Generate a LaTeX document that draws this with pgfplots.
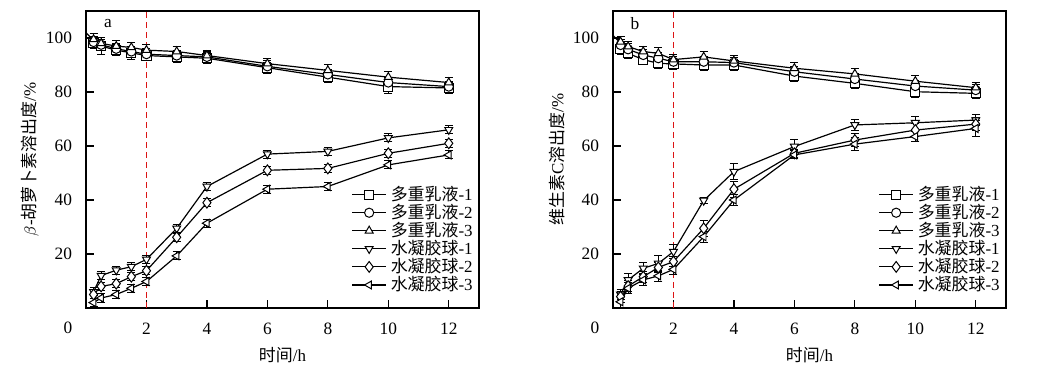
\documentclass[border=0pt]{standalone}
\usepackage{fontspec}
\setmainfont{Liberation Serif}
\newfontfamily\cjk{Noto Sans CJK SC}
\usepackage{pgfplots}
\pgfplotsset{compat=1.18}
\usepackage{pgfplotstable}

\pgfplotstableread{
x    s1   e1  s2   e2  s3   e3  s4   e4  s5   e5  s6   e6
0.25 98   2   98.5 2   99.5 2   6    1.5 5    1.5 2    1.5
0.5  97   3   97.5 2   98   2   12   1.5 8    1.5 3.7  1.5
1    95.5 2   96   2   97   2   14   1.5 9    1.5 5    1.5
1.5  94.5 2.5 95   2   96.5 2   15.3 1.5 11.6 1.5 7.3  1.5
2    93.5 2   94   2   95.5 2   18   1.5 13.8 1.5 9.8  1.5
3    93   2   93.5 2   95   2   29.5 1.5 26.2 1.5 19.3 1.5
4    92.5 2   93   2   93.5 2   45   1.5 39   1.5 31.4 1.5
6    89   2   89.5 2   90.5 2   57   1.5 51   1.5 44   1.5
8    85.5 2   86.5 2   88   2   58   1.5 51.7 1.5 45   1.5
10   82   2.5 83.5 2   85.5 2   63   1.5 57.3 1.5 53   1.5
12   81.5 2   82   2   83.5 2   66   1.5 61   1.5 56.7 1.5
}\dataA

\pgfplotstableread{
x    s1   e1  s2   e2  s3   e3  s4   e4  s5   e5  s6   e6
0.25 96   2   97.4 2   98.6 2   5    2   4.2  2   2.3  2
0.5  94.3 2   95.8 2   96.8 2   10.4 2.5 8.1  2   7.3  2
1    92   2   93.7 2   95   2   14.7 2   11.6 2   10.4 2
1.5  90.6 2   92.5 2   94.3 2   16.5 3   15   2   11.9 2
2    90.4 2   91.2 2   92   2   20.9 2.5 17.2 2   14.3 2
3    90   2   91.2 2   93   2   39.8 1   29.5 3   26.4 2
4    90   2   90.9 2   91.5 2   50.5 3   44   3   40   2
6    85.9 2   87.5 2   88.8 2   59.8 2.5 57.3 1.5 56.7 1.5
8    83.2 2   84.8 2   86.7 2   67.8 2   62.2 2.5 60.7 2.5
10   80.1 2   82.2 2   84   2   68.6 2.5 65.9 2.5 63.5 2
12   79.5 2   80.7 2   81.6 2   69.6 2   68.1 2.5 66.5 3
}\dataB

\definecolor{dashred}{RGB}{220,20,20}

\pgfplotsset{
 myaxis/.style={
  scale only axis, width=196.5bp, height=148.5bp,
  xmin=0, xmax=13, ymin=0, ymax=110,
  xtick={2,4,...,12}, ytick={20,40,...,100},
  tick align=inside, xtick pos=bottom, ytick pos=left,
  major tick length=4bp,
  axis line style={line width=0.7pt},
  tick style={line width=0.6pt, black},
  /pgf/number format/assume math mode=true,
  ticklabel style={font=\fontsize{8.7}{10}\selectfont},
  xticklabel style={yshift=-4bp},
  yticklabel style={xshift=-3.5bp},
  legend style={draw=none, fill=none, at={(1,0)}, anchor=south east,
    xshift=-1bp, yshift=5bp, font=\fontsize{8.5}{9.2}\selectfont,
    row sep=-3.6bp, inner sep=0pt},
  legend cell align=left,
 },
 ser/.style={black, line width=0.6pt, mark size=2.3bp,
    mark options={fill=white, draw=black, solid, line width=0.5pt},
    error bars/y dir=both, error bars/y explicit,
    error bars/error bar style={line width=0.5pt, black},
    error bars/error mark options={rotate=90, mark size=2bp, line width=0.5pt, black}},
}

\begin{document}
\begin{tikzpicture}
\path[use as bounding box] (0,0) rectangle (520bp,185bp);

\begin{axis}[myaxis, name=A, at={(43bp,31bp)}, anchor=south west]
\addplot[forget plot, black, line width=0.6pt] coordinates {(0,102) (0.25,99)};
\draw[dashred, line width=0.6pt, dash pattern=on 3bp off 2bp] (axis cs:2,0) -- (axis cs:2,110);
\addplot[ser, mark=square*] table[x=x, y=s1, y error=e1] {\dataA};
\addlegendentry{{\cjk 多重乳液}-1}
\addplot[ser, mark=*] table[x=x, y=s2, y error=e2] {\dataA};
\addlegendentry{{\cjk 多重乳液}-2}
\addplot[ser, mark=triangle*] table[x=x, y=s3, y error=e3] {\dataA};
\addlegendentry{{\cjk 多重乳液}-3}
\addplot[ser, mark=triangle*, mark options={fill=white, draw=black, solid, line width=0.5pt, rotate=180}] table[x=x, y=s4, y error=e4] {\dataA};
\addlegendentry{{\cjk 水凝胶球}-1}
\addplot[ser, mark=diamond*, mark size=2.7bp] table[x=x, y=s5, y error=e5] {\dataA};
\addlegendentry{{\cjk 水凝胶球}-2}
\addplot[ser, mark=triangle*, mark options={fill=white, draw=black, solid, line width=0.5pt, rotate=90}] table[x=x, y=s6, y error=e6] {\dataA};
\addlegendentry{{\cjk 水凝胶球}-3}
\end{axis}

\begin{axis}[myaxis, name=B, at={(306.5bp,31bp)}, anchor=south west]
\addplot[forget plot, black, line width=0.6pt] coordinates {(0,101) (0.25,98)};
\draw[dashred, line width=0.6pt, dash pattern=on 3bp off 2bp] (axis cs:2,0) -- (axis cs:2,110);
\addplot[ser, mark=square*] table[x=x, y=s1, y error=e1] {\dataB};
\addlegendentry{{\cjk 多重乳液}-1}
\addplot[ser, mark=*] table[x=x, y=s2, y error=e2] {\dataB};
\addlegendentry{{\cjk 多重乳液}-2}
\addplot[ser, mark=triangle*] table[x=x, y=s3, y error=e3] {\dataB};
\addlegendentry{{\cjk 多重乳液}-3}
\addplot[ser, mark=triangle*, mark options={fill=white, draw=black, solid, line width=0.5pt, rotate=180}] table[x=x, y=s4, y error=e4] {\dataB};
\addlegendentry{{\cjk 水凝胶球}-1}
\addplot[ser, mark=diamond*, mark size=2.7bp] table[x=x, y=s5, y error=e5] {\dataB};
\addlegendentry{{\cjk 水凝胶球}-2}
\addplot[ser, mark=triangle*, mark options={fill=white, draw=black, solid, line width=0.5pt, rotate=90}] table[x=x, y=s6, y error=e6] {\dataB};
\addlegendentry{{\cjk 水凝胶球}-3}
\end{axis}

\foreach \ax/\lab/\ylab in {A/a/{$\beta$-{\cjk 胡萝卜素溶出度}/\%}, B/b/{{\cjk 维生素}C{\cjk 溶出度}/\%}} {
  \node[font=\fontsize{8.7}{10}\selectfont] at ([xshift=-9bp,yshift=-10bp]\ax.south west) {0};
  \node[font=\fontsize{8.7}{10}\selectfont] at ([xshift=11bp,yshift=-6.5bp]\ax.north west) {\lab};
  \node[font=\fontsize{8.5}{10}\selectfont] at ([yshift=-23.5bp]\ax.south) {{\cjk 时间}/h};
  \node[font=\fontsize{8.5}{10}\selectfont, rotate=90] at ([xshift=-28bp]\ax.west) {\ylab};
}
\end{tikzpicture}
\end{document}
